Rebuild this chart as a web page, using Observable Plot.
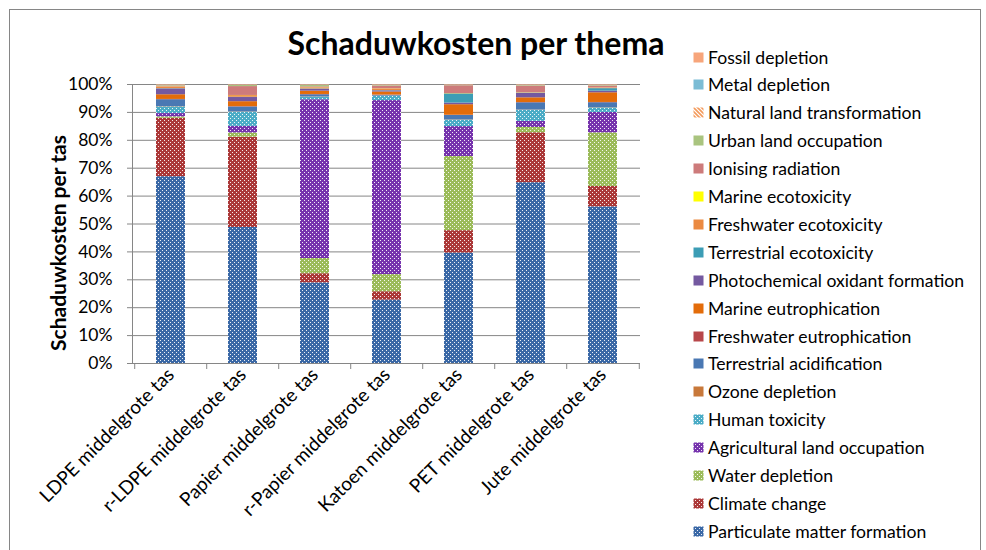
<!DOCTYPE html>
<html><head><meta charset="utf-8">
<script src="https://cdn.jsdelivr.net/npm/d3@7"></script>
<script src="https://cdn.jsdelivr.net/npm/@observablehq/plot@0.6"></script>
<style>
body{margin:0;background:#fff;font-family:Lato,sans-serif;color:#000;}
#wrap{position:relative;width:986px;height:550px;overflow:hidden;}
#border{position:absolute;left:9px;top:9px;width:972px;height:570px;border:1px solid #868686;box-sizing:border-box;}
#chart{position:absolute;left:0;top:0;}
#title{position:absolute;left:476px;top:23px;transform:translateX(-50%);font-weight:bold;font-size:32px;white-space:nowrap;}
#ytitle{position:absolute;left:57px;top:243px;transform:translate(-50%,-50%) rotate(-90deg);font-weight:bold;font-size:21px;white-space:nowrap;}
#legend{position:absolute;left:693px;top:43px;}
.li{position:absolute;left:0;height:28px;display:flex;align-items:center;white-space:nowrap;font-size:17.6px;}
.li svg{margin-right:4px;}
.xlab text{font-size:19px;}
</style></head>
<body>
<div id="wrap">
<svg width="0" height="0" style="position:absolute"><defs id="defs"></defs></svg>
<div id="border"></div>
<div id="chart"></div>
<div id="title">Schaduwkosten per thema</div>
<div id="ytitle">Schaduwkosten per tas</div>
<div id="legend"></div>
</div>
<script>
const categories = ["LDPE middelgrote tas","r-LDPE middelgrote tas","Papier middelgrote tas","r-Papier middelgrote tas","Katoen middelgrote tas","PET middelgrote tas","Jute middelgrote tas"];
// series, bottom of stack first
const seriesNames = ["Particulate matter formation","Climate change","Water depletion","Agricultural land occupation","Human toxicity","Ozone depletion","Terrestrial acidification","Freshwater eutrophication","Marine eutrophication","Photochemical oxidant formation","Terrestrial ecotoxicity","Freshwater ecotoxicity","Marine ecotoxicity","Ionising radiation","Urban land occupation","Natural land transformation","Metal depletion","Fossil depletion"];
const particulate = [67.5,49.1,29.1,22.9,39.9,65.2,56.7];
const climate     = [21.1,32.6,3.3,3.0,8.1,18.0,7.4];
const water       = [0.5,1.5,5.5,6.2,26.8,1.9,19.4];
const agricultural= [1.2,2.4,57.3,62.8,10.8,2.2,7.4];
const humanTox    = [2.4,5.1,0.9,1.5,2.3,4.0,1.6];
const ozone       = [0.1,0.1,0.1,0.1,0.1,0.1,0.1];
const terrAcid    = [2.5,1.8,0.8,0.3,1.6,2.6,1.8];
const freshEutro  = [0.1,0.1,0.1,0.1,0.1,0.1,0.1];
const marineEutro = [1.7,1.8,1.2,1.1,3.8,1.7,3.5];
const photochem   = [2.1,1.5,0.7,0.4,0.6,1.6,0.6];
const terrEcotox  = [0.1,0.1,0.1,0.1,3.3,0.1,0.9];
const freshEcotox = [0.6,0.6,0.4,0.6,0.1,0.1,0.2];
const marineEcotox= [0.05,0.05,0.05,0.05,0.05,0.05,0.05];
const ionising    = [0.3,3.2,0.3,1.0,2.8,2.4,0.7];
const urban       = [0.2,0.4,0.5,0.2,0.1,0.2,0.2];
const natural     = [0.05,0.05,0.05,0.05,0.05,0.05,0.05];
const metal       = [0.1,0.1,0.1,0.1,0.1,0.1,0.1];
const fossil      = [0.2,0.2,0.2,0.2,0.2,0.2,0.2];
const seriesValues = [particulate,climate,water,agricultural,humanTox,ozone,terrAcid,freshEutro,marineEutro,photochem,terrEcotox,freshEcotox,marineEcotox,ionising,urban,natural,metal,fossil];
const yTicks = [0,0.1,0.2,0.3,0.4,0.5,0.6,0.7,0.8,0.9,1];

// styles
const baseColors = ["#3a68a6","#ab3838","#9bbb59","#7633ad","#4bacc6","#c8783a","#4a78b3","#b8474a","#e36c0a","#7459a0","#3c9db5","#eb8a41","#ffff00","#cd7b7b","#a9c47f","#f49a5b","#7bbcd5","#f7a57b"];
const patterned = new Set([0,1,2,3,4]);
const NS = "http://www.w3.org/2000/svg";
const defs = document.getElementById("defs");
function el(tag, attrs, parent){const e=document.createElementNS(NS,tag);for(const k in attrs)e.setAttribute(k,attrs[k]);parent.appendChild(e);return e;}
const fills = baseColors.map((c,i)=>{
  if (patterned.has(i)) {
    const p = el("pattern",{id:"pat"+i,width:4,height:4,patternUnits:"userSpaceOnUse"},defs);
    el("rect",{width:4,height:4,fill:c},p);
    el("rect",{x:0,y:0,width:1,height:1,fill:"#fff",opacity:0.9},p);
    el("rect",{x:2,y:2,width:1,height:1,fill:"#fff",opacity:0.9},p);
    return "url(#pat"+i+")";
  }
  if (i===15) {
    const p = el("pattern",{id:"pat"+i,width:4,height:4,patternUnits:"userSpaceOnUse"},defs);
    el("rect",{width:4,height:4,fill:"#fff"},p);
    el("path",{d:"M-1,-1 L5,5 M-1,3 L1,5 M3,-1 L5,1",stroke:c,"stroke-width":1.6},p);
    return "url(#pat"+i+")";
  }
  return c;
});

const data = [];
seriesNames.forEach((s,i)=>categories.forEach((c,j)=>data.push({category:c, series:s, value:seriesValues[i][j]})));

const W=986,H=550,ML=132,MR=346,MT=84,MB=187;
const step=(W-ML-MR)/categories.length;
const grey="#868686";
const chart = Plot.plot({
  width:W, height:H, marginLeft:ML, marginRight:MR, marginTop:MT, marginBottom:MB,
  style:{fontFamily:"Lato, sans-serif", fontSize:"17.5px", color:"#000", background:"transparent"},
  x:{domain:categories, paddingInner:0.6, paddingOuter:0.3, label:null},
  y:{domain:[0,1], label:null},
  color:{type:"ordinal", domain:seriesNames, range:fills},
  marks:[
    Plot.gridY(yTicks,{stroke:grey, strokeOpacity:1}),
    Plot.barY(data, Plot.stackY({offset:"normalize"}, {x:"category", y:"value", fill:"series"})),
    Plot.ruleY([0],{stroke:grey}),
    Plot.frame({anchor:"left", stroke:grey}),
    Plot.axisY(yTicks,{tickFormat:d3.format(".0%"), tickSize:5, tickPadding:15, stroke:grey, label:null}),
    Plot.axisX({tickSize:0, tickRotate:-45, tickPadding:8, label:null, fontSize:19}),
    Plot.axisX({text:null, tickSize:6, dx:-step/2, stroke:grey, label:null}),
    Plot.axisX([categories[categories.length-1]],{text:null, tickSize:6, dx:step/2, stroke:grey, label:null})
  ]
});
document.getElementById("chart").appendChild(chart);

const legend = document.getElementById("legend");
const order = seriesNames.map((s,i)=>i).reverse();
order.forEach((i,k)=>{
  const d=document.createElement("div");
  d.className="li";
  d.style.top=(k*27.9)+"px";
  d.innerHTML=`<svg width="11" height="11"><rect x="0.5" y="0.5" width="10" height="10" fill="${fills[i]}"/></svg><span>${seriesNames[i]}</span>`;
  legend.appendChild(d);
});
</script>
</body></html>
